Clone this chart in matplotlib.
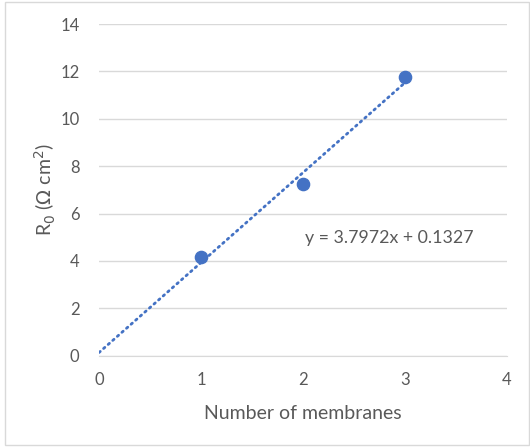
import matplotlib
matplotlib.use("Agg")
from matplotlib import pyplot as plt
from matplotlib.patches import Rectangle
import numpy as np

# measured data
membranes = [1, 2, 3]
r0_values = [4.17, 7.24, 11.76]

# linear trendline
slope = 3.7972
intercept = 0.1327
trend_x = [0, 3]

x_ticks = [0, 1, 2, 3, 4]
y_ticks = [0, 2, 4, 6, 8, 10, 12, 14]

blue = "#4472C4"
grey_text = "#595959"
grid_grey = "#D9D9D9"

plt.rcParams["font.family"] = ["Lato", "DejaVu Sans"]

fig = plt.figure(figsize=(5.30, 4.47), dpi=100)
ax = fig.add_axes([0.1868, 0.2043, 0.7698, 0.7420])

# outer chart border
fig.patches.append(Rectangle((5 / 530, 2 / 447), 524 / 530, 443 / 447,
                             transform=fig.transFigure, fill=False,
                             edgecolor="#D9D9D9", lw=1.0))

ax.set_xlim(0, 4)
ax.set_ylim(0, 14)
ax.set_xticks(x_ticks)
ax.set_yticks(y_ticks)
ax.yaxis.grid(True, color=grid_grey, lw=1.0)
ax.set_axisbelow(True)
for side in ["top", "right", "left"]:
    ax.spines[side].set_visible(False)
ax.spines["bottom"].set_color(grid_grey)
ax.tick_params(length=0, labelsize=12, labelcolor=grey_text, pad=12)
ax.tick_params(axis="y", pad=14)

tx = np.array(trend_x, dtype=float)
ax.plot(tx, slope * tx + intercept, color=blue, lw=2.0,
        linestyle=(0, (0.6, 1.6)), dash_capstyle="round", zorder=2)
ax.plot(membranes, r0_values, "o", color=blue, markersize=8.8, zorder=3)

ax.text(2.02, 4.98, f"y = {slope}x + {intercept}", fontsize=12.8,
        color=grey_text, va="center", ha="left")

ax.set_xlabel("Number of membranes", fontsize=14, color=grey_text, labelpad=12)
ax.set_ylabel(r"R$_0$ ($\Omega$ cm$^2$)", fontsize=14, color=grey_text,
              labelpad=2)

fig.savefig("out.png", dpi=100)
